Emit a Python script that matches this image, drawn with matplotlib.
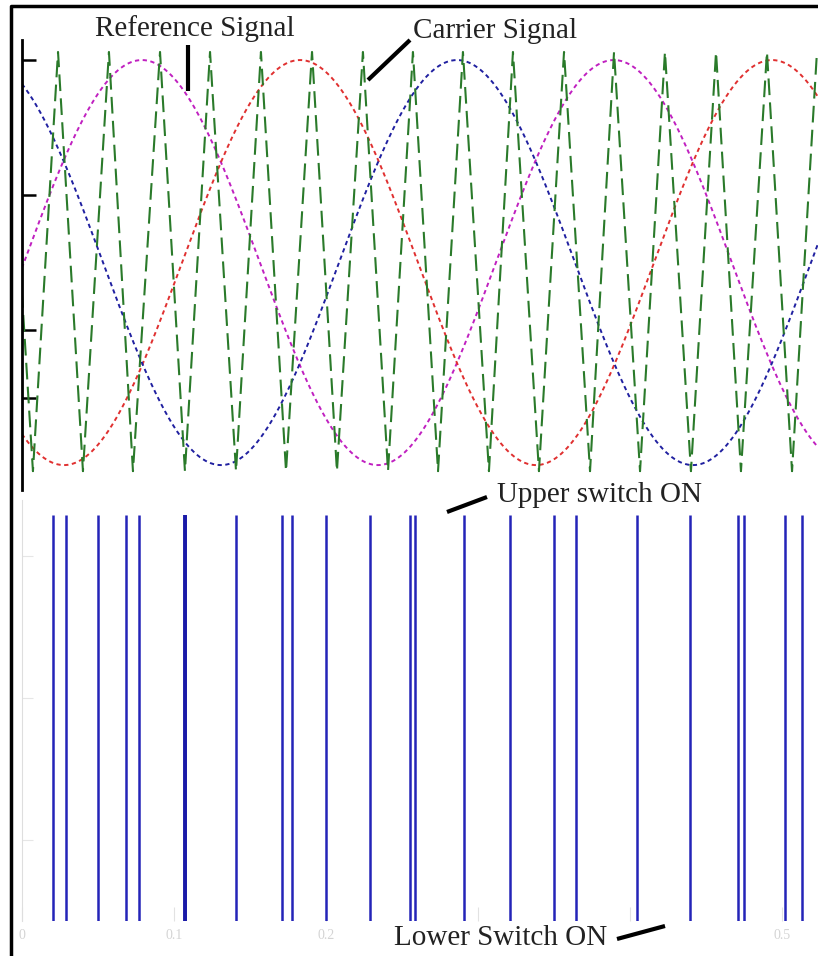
import matplotlib
matplotlib.use("Agg")
import matplotlib.pyplot as plt
from matplotlib.lines import Line2D
import numpy as np

# three-phase reference: peak instants of each phase and common period
ref_period = 0.3105
ref_peaks = [0.0789, 0.1829, 0.2862]          # magenta, red, blue
ref_colors = ["#c020c0", "#e03030", "#2020a0"]

# triangular carrier vertices
carrier_peaks = [-0.0099, 0.0237, 0.0572, 0.0908, 0.1237, 0.1572, 0.1908, 0.2243, 0.2572,
                 0.2901, 0.3230, 0.3566, 0.3895, 0.4230, 0.4566, 0.4901, 0.5230]
carrier_troughs = [0.0072, 0.0401, 0.0730, 0.1072, 0.1408, 0.1737, 0.2072, 0.2408, 0.2737,
                   0.3072, 0.3401, 0.3737, 0.4066, 0.4401, 0.4730, 0.5066]
carrier_hi = 1.04
carrier_lo = -1.03

# switching instants of the gate signal
pulses = [0.0204, 0.0289, 0.0500, 0.0684, 0.0770, 0.1072, 0.1408, 0.1711, 0.1776, 0.2000,
          0.2289, 0.2553, 0.2586, 0.2908, 0.3211, 0.3500, 0.3645, 0.4046, 0.4395, 0.4711,
          0.4750, 0.5020, 0.5132]
xticks = [0, 0.1, 0.2, 0.3, 0.4, 0.5]
xticklabels = ["0", "0.1", "0.2", "", "", "0.5"]

W, H = 818, 956
fig = plt.figure(figsize=(W / 100, H / 100), dpi=100)
plt.rcParams["font.family"] = ["Liberation Serif", "DejaVu Serif"]


def fx(px):
    return px / W


def fy(py):
    return 1 - py / H


t_end = (W - 22) / 1520

# ---- upper panel: reference and carrier
ax1 = fig.add_axes([fx(22), fy(490), fx(W - 22), (490 - 40) / H])
t = np.linspace(-0.02, t_end + 0.02, 3000)
for p, c in zip(ref_peaks, ref_colors):
    ax1.plot(t, np.cos(2 * np.pi * (t - p) / ref_period), color=c, lw=1.4,
             linestyle=(0, (2.2, 1.8)))

ct = []
cv = []
for i in range(len(carrier_troughs)):
    ct += [carrier_peaks[i], carrier_troughs[i]]
    cv += [carrier_hi, carrier_lo]
ct.append(carrier_peaks[-1])
cv.append(carrier_hi)
ax1.plot(ct, cv, color="#2a7a2a", lw=1.5, linestyle=(0, (8, 3.5)))

ax1.set_xlim(0, t_end)
ax1.set_ylim(-1.123, 1.099)
for s in ["top", "right", "bottom"]:
    ax1.spines[s].set_visible(False)
ax1.spines["left"].set_linewidth(2)
ax1.set_xticks([])
ax1.set_yticks([1, 1 / 3, -1 / 3, -2 / 3])
ax1.set_yticklabels([])
ax1.tick_params(axis="y", direction="in", length=10, width=1.8, color="black")

# ---- lower panel: gate pulses
ax2 = fig.add_axes([fx(22), fy(921), fx(W - 22), (921 - 500) / H])
ax2.vlines(pulses, 0, 1, color="#2424b8", lw=1.8)
ax2.vlines([pulses[5]], 0, 1, color="#1a1aa8", lw=2.8)
ax2.set_xlim(0, t_end)
ax2.set_ylim(0, 1.037)
for s in ["top", "right", "bottom"]:
    ax2.spines[s].set_visible(False)
ax2.spines["left"].set_color("#dedede")
ax2.set_xticks(xticks)
ax2.set_xticklabels(xticklabels, color="#d4d4d4", fontsize=10)
ax2.set_yticks([0.2, 0.55, 0.9])
ax2.set_yticklabels([])
ax2.tick_params(axis="x", direction="in", length=10, color="#e2e2e2", pad=6)
ax2.tick_params(axis="y", direction="in", length=8, color="#e6e6e6")

# ---- labels and pointer strokes
txt = dict(fontsize=21, color="#222222", va="baseline")
fig.text(fx(95), fy(36), "Reference Signal", **txt)
fig.text(fx(413), fy(38), "Carrier Signal", **txt)
fig.text(fx(497), fy(502), "Upper switch ON", **txt)
fig.text(fx(394), fy(945), "Lower Switch ON", **txt)

strokes = [((188, 45), (188, 91)), ((410, 40), (368, 80)),
           ((447, 512), (487, 497)), ((617, 939), (665, 926))]
for (x0, y0), (x1, y1) in strokes:
    fig.add_artist(Line2D([fx(x0), fx(x1)], [fy(y0), fy(y1)], color="black", lw=3,
                          solid_capstyle="butt"))

# frame along the left and top
fig.add_artist(Line2D([fx(11), fx(11), fx(W)], [0, fy(6), fy(6)], color="black", lw=2.5))

fig.savefig("out.png", dpi=100)
